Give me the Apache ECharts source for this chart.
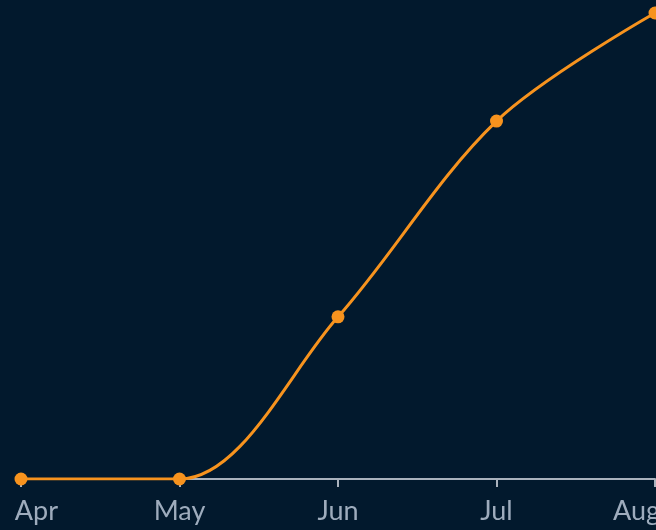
<!DOCTYPE html>
<html>
<head>
<meta charset="utf-8">
<script src="https://cdn.jsdelivr.net/npm/echarts@6/dist/echarts.min.js"></script>
<style>
  html, body { margin: 0; padding: 0; background: #02192d; }
  #chart { width: 656px; height: 530px; }
</style>
</head>
<body>
<div id="chart"></div>
<script>
const meses = ["Apr", "May", "Jun", "Jul", "Aug"];
const valores = [0, 0, 34.8, 76.8, 100];

const myChart = echarts.init(document.getElementById("chart"));

const ultimo = meses.length - 1;

myChart.setOption({
  backgroundColor: "#02192d",
  animation: false,
  grid: { left: 21, right: 1, top: 13, bottom: 51, outerBoundsMode: "none" },
  xAxis: {
    type: "category",
    data: meses,
    boundaryGap: false,
    axisLine: { lineStyle: { color: "#aab2bd", width: 2 } },
    axisTick: { alignWithLabel: true, length: 8, lineStyle: { color: "#aab2bd", width: 2 } },
    axisLabel: {
      color: "#9eacbd",
      fontFamily: "Lato",
      fontSize: 27,
      margin: 19,
      showMinLabel: true,
      showMaxLabel: true,
      hideOverlap: false,
      formatter: function (val, idx) {
        if (idx === 0) return "{ini|" + val + "}";
        if (idx === ultimo) return "{fim|" + val + "}";
        return val;
      },
      rich: {
        ini: { width: 74, align: "right", fontSize: 27, fontFamily: "Lato", color: "#9eacbd" },
        fim: { width: 84, align: "left", fontSize: 27, fontFamily: "Lato", color: "#9eacbd" },
      },
    },
  },
  yAxis: {
    type: "value",
    min: 0,
    max: 100,
    show: false,
  },
  series: [
    {
      type: "line",
      data: valores,
      smooth: 0.33,
      symbol: "circle",
      symbolSize: 13,
      lineStyle: { color: "#f7931e", width: 3 },
      itemStyle: { color: "#f7931e" },
    },
  ],
});
</script>
</body>
</html>
